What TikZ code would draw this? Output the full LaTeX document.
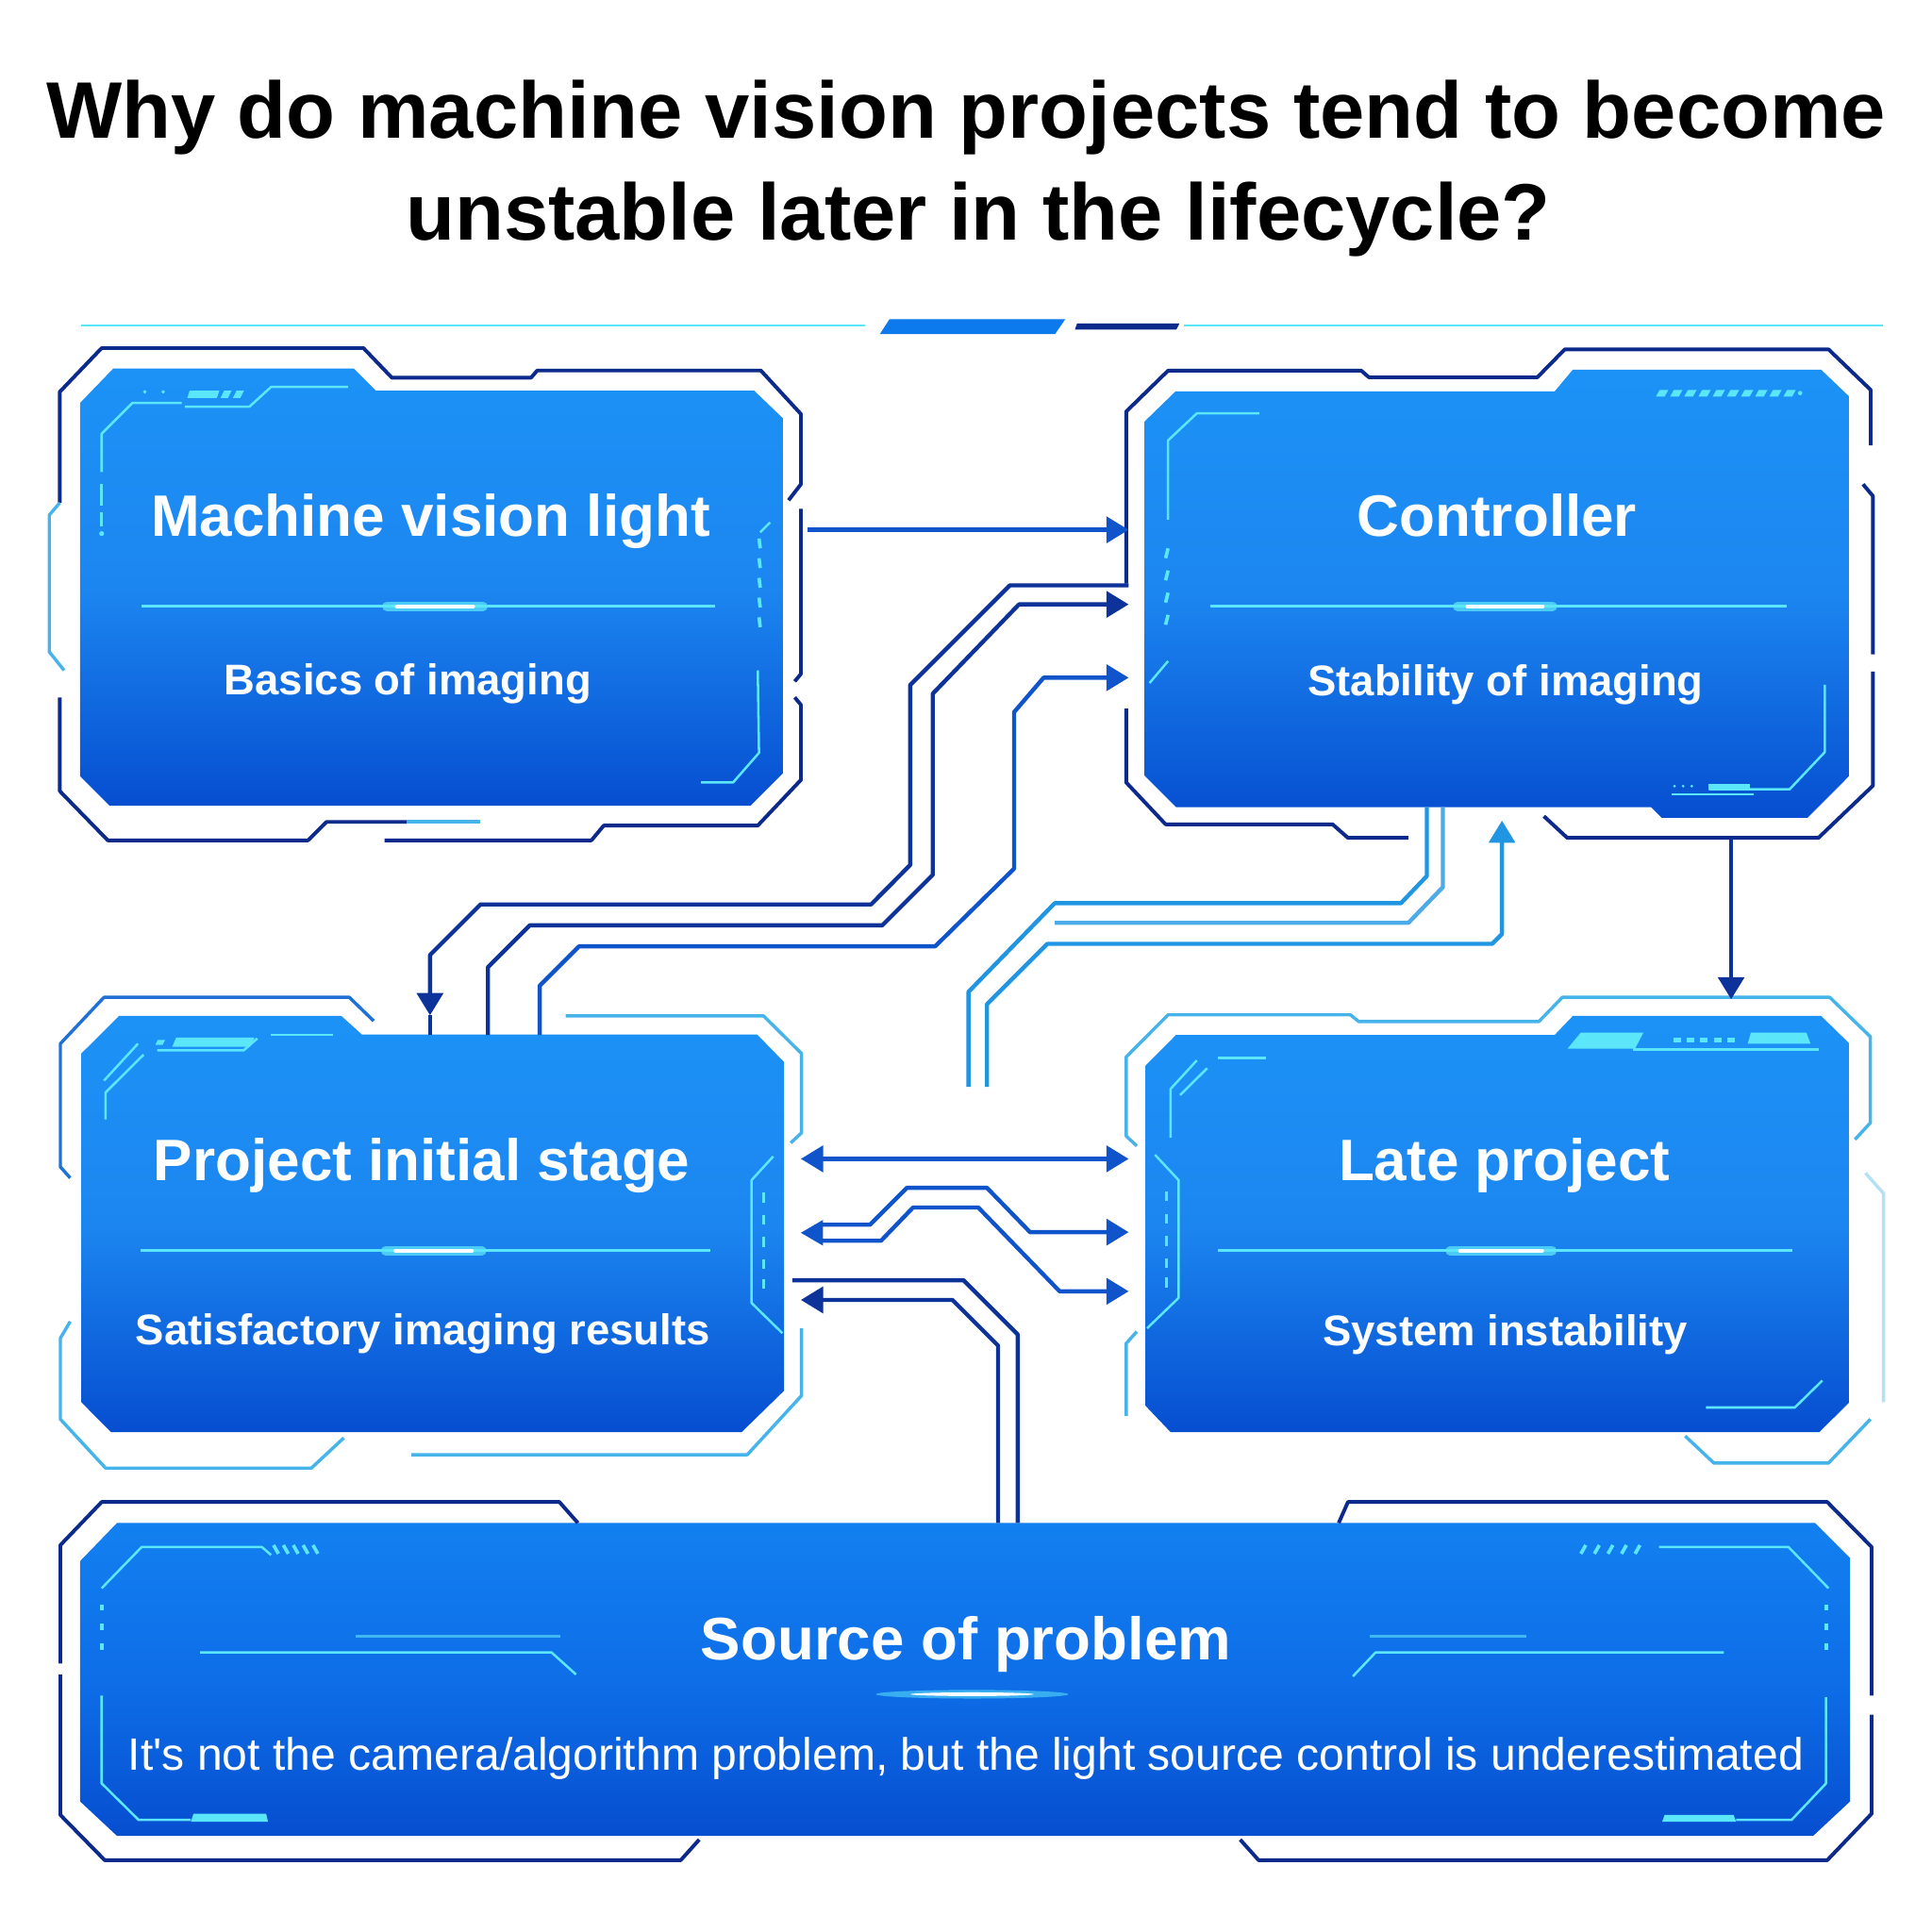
\documentclass[tikz,border=0pt]{standalone}
\usepackage{fontspec}
\setmainfont{Liberation Sans}
\usetikzlibrary{arrows.meta,calc}
\definecolor{navy}{RGB}{12,42,140}
\definecolor{conn}{RGB}{16,84,204}
\definecolor{connlt}{RGB}{32,150,226}
\definecolor{deco}{RGB}{92,230,250}
\definecolor{frlt}{RGB}{70,180,235}
\definecolor{ftop}{RGB}{28,146,246}
\definecolor{fmid}{RGB}{28,134,240}
\definecolor{fbot}{RGB}{6,78,208}
\definecolor{f5top}{RGB}{18,128,240}
\definecolor{f5mid}{RGB}{14,110,232}
\definecolor{bannerblue}{RGB}{12,122,236}
\newcommand\glowdiv[5]{%
  \draw[deco,line width=0.55pt] (#2,#1)--(#3,#1);
  \draw[deco,line width=2.2pt,opacity=0.75,line cap=round] (#4,#1)--(#5,#1);
  \draw[white,line width=0.9pt,line cap=round] ({#4+8},#1)--({#5-8},#1);}
\begin{document}
\begin{tikzpicture}[x=0.01cm,y=-0.01cm,
  fr/.style={draw=navy,line width=0.85pt,line join=round},
  frl/.style={draw=frlt,line width=0.75pt,line join=round},
  dc/.style={draw=deco,line width=0.55pt,line join=round},
  cn/.style={draw=conn,line width=0.95pt,line join=round},
  cnn/.style={draw=navy!80!conn,line width=0.95pt,line join=round},
  cnl/.style={draw=connlt,line width=0.95pt,line join=round},
  arr/.style={-{Triangle[length=1.8mm,width=2.1mm]}},
  arrb/.style={{Triangle[length=1.8mm,width=2.1mm]}-{Triangle[length=1.8mm,width=2.1mm]}},
  bx/.style={top color=ftop,bottom color=fbot,middle color=fmid},
  ttl/.style={text=black,font=\fontsize{18.5pt}{22pt}\selectfont\bfseries,anchor=base,inner sep=0pt},
  bt/.style={text=white,font=\fontsize{13.5pt}{16pt}\selectfont\bfseries,anchor=base,inner sep=0pt},
  bs/.style={text=white,font=\fontsize{9.9pt}{12pt}\selectfont\bfseries,anchor=base,inner sep=0pt},
]
\useasboundingbox[fill=white] (0,0) rectangle (1568,1568);

% ---------- title ----------
\node[ttl] (title1) at (784,112) {Why do machine vision projects tend to become};
\node[ttl] (title2) at (794,195) {unstable later in the lifecycle?};

% ---------- banner ----------
\draw[deco,line width=0.6pt] (66,264.2)--(702,264.2);
\fill[bannerblue] (721.9,259.1)--(864.5,259.1)--(856.3,271.1)--(714.1,271.1)--cycle;
\fill[navy] (874.2,262.4)--(957.3,262.4)--(954.7,267.5)--(872.4,267.5)--cycle;
\draw[deco,line width=0.6pt] (961,264.2)--(1528,264.2);

% ---------- box 1 ----------
\shade[bx] (92,299)--(287,299)--(305,317)--(612,317)--(636,340)--(636,627)--(609,654)--(89,654)--(65,630)--(65,327)--cycle;
\draw[fr] (48.5,408)--(48.5,318)--(82.5,282.5)--(295,282.5)--(318,306.5)--(431,306.5)--(436,300.7)--(617.5,300.7)--(650,336)--(650,393)--(640,406);
\draw[fr] (650,413)--(650,547)--(645,553);
\draw[fr] (645,566)--(650,572)--(650,633)--(615,670)--(490,670)--(480,682)--(312,682);
\draw[fr] (330,667)--(265,667)--(250,682)--(87.5,682)--(48.5,642)--(48.5,566);
\draw[frl] (330,667)--(390,667);
\draw[frl] (48.5,408)--(40,418)--(40,529)--(52,544);
\draw[dc] (82.5,383)--(82.5,352)--(107.5,327)--(147.5,327);
\draw[dc] (82.5,393)--(82.5,410) (82.5,416)--(82.5,427);
\fill[deco] (82.5,433) circle (0.02cm);
\fill[deco] (154,317)--(178,317)--(176,323)--(152,323)--cycle;
\fill[deco] (182,317)--(188,317)--(185,323)--(179,323)--cycle;
\fill[deco] (192,317)--(198,317)--(195,323)--(189,323)--cycle;
\fill[deco] (117.5,318) circle (0.015cm) (132.5,318) circle (0.015cm);
\draw[dc] (150,330)--(202.5,330)--(220,314)--(282.5,314);
\foreach \yy in {437,453,469,485,501} \draw[dc,line width=0.8pt] (616,\yy)--(617,\yy+8);
\draw[dc] (625,424)--(617,432);
\draw[dc] (615,544)--(616,611)--(595,635)--(569,635);
\glowdiv{492}{115}{580}{314}{392}
\node[bt] (t1) at (349.5,435.5) {Machine vision light};
\node[bs] (s1) at (331,564) {Basics of imaging};

% ---------- box 2 ----------
\shade[bx] (929,342)--(954,317.7)--(1261.7,317.7)--(1276.5,300)--(1478,300)--(1501,322)--(1501,629.5)--(1467,663.7)--(1348.6,663.7)--(1340,655)--(954.4,655)--(929,629.5)--cycle;
\draw[fr] (914,473.6)--(914,334)--(948,300.8)--(1104.8,300.8)--(1111,306.2)--(1247.7,306.2)--(1270,283.5)--(1484,283.5)--(1518.2,316.4)--(1518.2,361.5);
\draw[fr] (1512,393)--(1520,402.5)--(1520,531);
\draw[fr] (1520,545)--(1520,637.7)--(1475.8,680)--(1272,680)--(1253,662.4);
\draw[fr] (914,575)--(914,635)--(946,669)--(1081.5,669)--(1094,680)--(1143,680);
\draw[dc] (948,421.7)--(948,357.4)--(971.3,335.5)--(1022,335.5);
\foreach \yy in {445,463,481,499} \draw[dc,line width=0.8pt] (946,\yy+8)--(948,\yy);
\draw[dc] (948,536.5)--(933,554.3);
\foreach \i in {0,...,9} \fill[deco] ({1344+\i*11.5},321.8)--++(7,0)--++(3,-5.4)--++(-7,0)--cycle;
\fill[deco] (1461,319) circle (0.018cm);
\draw[dc] (1481,555.7)--(1481,610.4)--(1452.5,640.5)--(1386.8,640.5);
\fill[deco] (1386.8,636.5) rectangle (1420.6,640.5);
\draw[dc] (1357,644.6)--(1423,644.6);
\fill[deco] (1359,638) circle (0.012cm) (1366,638) circle (0.012cm) (1373,638) circle (0.012cm);
\glowdiv{492}{982}{1450}{1183}{1260}
\node[bt] (t2) at (1215,435) {Controller};
\node[bs] (s2) at (1222,565) {Stability of imaging};

% ---------- box 3 ----------
\shade[bx] (66,855)--(96.7,824.5)--(277,824.5)--(293.6,839.5)--(614.4,839.5)--(636.4,862)--(636.4,1128.6)--(602,1162.2)--(90,1162.2)--(66,1138)--cycle;
\draw[frl,draw=conn!70!frlt] (57,956)--(49,947)--(49,847)--(84.4,809.4)--(283.5,809.4)--(303.3,828.6);
\draw[frl] (459,824.5)--(619.7,824.5)--(650.5,855)--(650.5,919.4)--(641.7,927.6);
\draw[frl] (650.5,1078)--(650.5,1132.7)--(606.5,1180.6)--(334,1180.6);
\draw[frl] (57,1072.5)--(49,1086)--(49,1151.8)--(85.7,1191.5)--(252.7,1191.5)--(279,1167);
\draw[dc] (85.7,908.4)--(85.7,886.6)--(116.5,856);
\draw[dc] (84.4,877)--(112,847);
\fill[deco] (143,842)--(206.6,842)--(203,849.6)--(139.8,849.6)--cycle;
\fill[deco] (128,844)--(134,844)--(132,848)--(126,848)--cycle;
\draw[dc] (127.5,852.4)--(197.8,852.4)--(208.8,842.8);
\draw[dc] (219.8,840)--(270.3,840);
\draw[dc] (627.6,938.5)--(610,957.7)--(610,1057.5)--(635,1082);
\foreach \yy in {968,986,1004,1022,1038} \draw[dc,line width=0.8pt] (619.7,\yy)--(619.7,\yy+8);
\glowdiv{1015}{114}{576.6}{313}{391}
\node[bt] (t3) at (342.4,958) {Project initial stage};
\node[bs] (s3) at (343.2,1091) {Satisfactory imaging results};

% ---------- box 4 ----------
\shade[bx] (929.8,864.7)--(954.4,840)--(1261.7,840)--(1276.5,824.5)--(1478,824.5)--(1501,847)--(1501,1138)--(1476.6,1162.2)--(950,1162.2)--(929.8,1141)--cycle;
\draw[frl] (922.6,930)--(914,922)--(914,857.8)--(948,823.6)--(1096,823.6)--(1102.7,829)--(1249,829)--(1268,809.4)--(1485,809.4)--(1518,841.4)--(1518,911.2)--(1505.5,924.8);
\draw[frl,opacity=0.4] (1514,952)--(1528.7,968.6)--(1528.7,1138);
\draw[frl] (1518,1151.8)--(1484,1187.4)--(1391,1187.4)--(1367.7,1165.5);
\draw[frl] (922.6,1080.7)--(914,1090.3)--(914,1149);
\draw[dc] (950,923.5)--(950,883.8)--(971.3,860.6);
\draw[dc] (957.8,888.7)--(979.8,866.9);
\draw[dc] (988.3,858.7)--(1027.3,858.7);
\fill[deco] (1283,838)--(1333.8,838)--(1327,851)--(1272.3,851)--cycle;
\foreach \i in {0,...,4} \fill[deco] ({1358+\i*11},842.5) rectangle ++(6,3.5);
\fill[deco] (1421,838)--(1466,838)--(1469.4,847)--(1418.5,847)--cycle;
\draw[dc] (1325,851.8)--(1475.8,851.8);
\draw[dc] (937.4,937.2)--(956.5,957.7)--(956.5,1053.4)--(931,1078);
\foreach \yy in {967,985,1003,1021,1037} \draw[dc,line width=0.8pt] (946.7,\yy)--(946.7,\yy+8);
\draw[dc] (1479,1120.4)--(1456.7,1142.3)--(1384.6,1142.3);
\glowdiv{1015}{988.3}{1454.6}{1177}{1259.6}
\node[bt] (t4) at (1221,958) {Late project};
\node[bs] (s4) at (1221.5,1092) {System instability};

% ---------- box 5 ----------
\shade[top color=f5top,bottom color=fbot,middle color=f5mid] (95,1236)--(1473,1236)--(1501.5,1264.5)--(1501.5,1462)--(1471.5,1490)--(95,1490)--(65,1462)--(65,1267)--cycle;
\draw[fr] (49,1350)--(49,1254)--(82.5,1219)--(454,1219)--(469,1236);
\draw[fr] (49,1359)--(49,1473)--(85,1509.7)--(552.5,1509.7)--(567.5,1493);
\draw[fr] (1086.5,1236)--(1094,1219)--(1483,1219)--(1519,1255.5)--(1519,1376);
\draw[fr] (1519,1391.6)--(1519,1472)--(1483,1509.7)--(1021.5,1509.7)--(1006.5,1493);
\draw[dc] (82.5,1289)--(115,1255.5)--(212.5,1255.5)--(220,1262);
\foreach \i in {0,...,4} \draw[dc,line width=0.8pt] ({222+\i*8},1254)--({226+\i*8},1261);
\foreach \yy in {1302,1318,1334} \draw[dc,line width=0.8pt] (82.5,\yy)--(82.5,\yy+5);
\draw[dc] (82.5,1376)--(82.5,1447.4)--(112.5,1477)--(155,1477);
\fill[deco] (157,1472)--(216,1472)--(217.5,1478.5)--(155,1478.5)--cycle;
\draw[dc] (162.5,1341)--(447.5,1341)--(467.5,1359);
\draw[dc,opacity=0.6] (289,1328)--(455,1328);
\draw[dc] (1346.5,1255.5)--(1451.5,1255.5)--(1484,1289);
\foreach \i in {0,...,4} \draw[dc,line width=0.8pt] ({1283+\i*11},1261)--({1287+\i*11},1254);
\foreach \yy in {1302,1318,1334} \draw[dc,line width=0.8pt] (1482,\yy)--(1482,\yy+5);
\draw[dc] (1482,1377.4)--(1482,1447.4)--(1454,1477)--(1409,1477);
\fill[deco] (1351,1473)--(1407,1473)--(1409,1478.5)--(1349,1478.5)--cycle;
\draw[dc] (1098,1360.5)--(1116.5,1341)--(1399,1341);
\draw[dc,opacity=0.6] (1111.5,1328)--(1239,1328);
\fill[deco,opacity=0.55] (789,1375) ellipse (0.78cm and 0.035cm);
\fill[white] (789,1375) ellipse (0.5cm and 0.015cm);
\node[bt,font=\fontsize{13.85pt}{16pt}\selectfont\bfseries] (t5) at (784,1347) {Source of problem};
\node[text=white,font=\fontsize{10.47pt}{13pt}\selectfont,anchor=base,inner sep=0pt] (s5) at (784,1437) {It\textquotesingle s not the camera/algorithm problem, but the light source control is underestimated};

% ---------- connector ports ----------
\coordinate (p1out) at (655,430);   \coordinate (p2inA) at (916,430);
\coordinate (p2inB) at (916,475);   \coordinate (p3inA) at (349,824);
\coordinate (p3outB) at (396,840);  \coordinate (p2inC) at (916,490.5);
\coordinate (p3outC) at (438,840);  \coordinate (p2inD) at (916,550);
\coordinate (p2outA) at (1405,681); \coordinate (p4inA) at (1405,811);
\coordinate (p2outB) at (1158,655); \coordinate (p2outC) at (1171,655);
\coordinate (p2inE) at (1219,666);
\coordinate (endB) at (786,882);    \coordinate (endC) at (856,749);
\coordinate (endD) at (801,882);
\coordinate (p3r1) at (650,940.5);  \coordinate (p4l1) at (916,940.5);
\coordinate (p3r2) at (666,994);    \coordinate (p3r3) at (666,1007);
\coordinate (p4l2) at (916,1000);   \coordinate (p4l3) at (916,1048);
\coordinate (p5topA) at (810,1236); \coordinate (p3r4) at (650,1055);
\coordinate (p5topB) at (826,1236); \coordinate (endE) at (643,1039);

% ---------- connectors ----------
\draw[cn,arr] (p1out) -- (p2inA);
\draw[cnn,arr] (p2inB) -- (819.7,475) -- (738.7,556) -- (738.7,702) -- (707,734) -- (390,734) -- (349,775) -- (p3inA);
\draw[cnn] (p3inA) -- (349,840);
\draw[cnn,arr] (p3outB) -- (396,785) -- (430,751) -- (716,751) -- (757,710) -- (757,563) -- (827,490.5) -- (p2inC);
\draw[cn,arr] (p3outC) -- (438,800) -- (470,768) -- (759,768) -- (823,705) -- (823,578) -- (847,550) -- (p2inD);
\draw[cnn,arr] (p2outA) -- (p4inA);
\draw[cnl] (p2outB) -- (1158,711) -- (1137,733) -- (856,733) -- (786,805) -- (endB);
\draw[cnl,draw=connlt!80!white] (p2outC) -- (1171,720) -- (1143,749) -- (endC);
\draw[cnl,arr] (endD) -- (801,815) -- (850,766) -- (1211,766) -- (1219,758) -- (p2inE);
\draw[cn,arrb] (p3r1) -- (p4l1);
\draw[cn,arr] (p3r2) -- (706,994) -- (736,964) -- (801,964) -- (836,1000) -- (p4l2);
\draw[cn,arr] (p3r3) -- (715,1007) -- (741,980) -- (794,980) -- (860,1048) -- (p4l3);
\fill[conn] (650,1000.5) -- (668,990) -- (668,1011) -- cycle;
\draw[cnn,arr] (p5topA) -- (810,1092) -- (773,1055) -- (p3r4);
\draw[cnn] (p5topB) -- (826,1083) -- (782,1039) -- (endE);
\end{tikzpicture}
\end{document}
